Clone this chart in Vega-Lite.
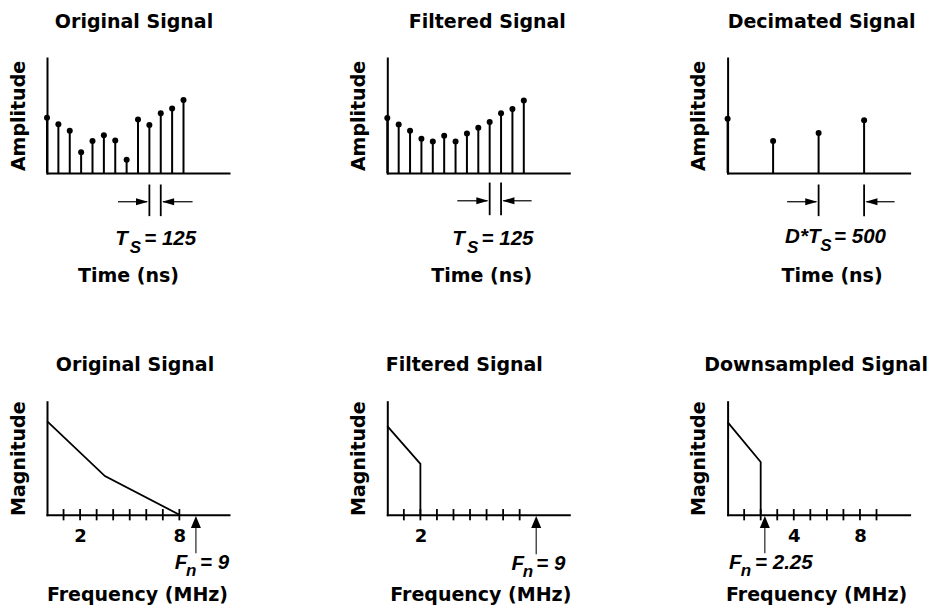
{
  "$schema": "https://vega.github.io/schema/vega-lite/v6.json",
  "background": "white",
  "padding": {"left": 8, "top": 13, "right": 0, "bottom": 0},
  "columns": 3,
  "bounds": "flush",
  "spacing": {"row": 228.7, "column": 158.3},
  "config": {
    "font": "DejaVu Sans",
    "view": {"stroke": null},
    "title": {"fontSize": 19, "fontWeight": "bold", "font": "DejaVu Sans", "color": "black", "offset": 26, "frame": "group"},
    "axis": {
      "domainColor": "black", "domainWidth": 2, "domainCap": "square",
      "ticks": false, "tickSize": 0, "labels": false, "grid": false,
      "titleFont": "DejaVu Sans", "titleFontSize": 19, "titleFontWeight": "bold", "titleColor": "black",
      "labelFont": "DejaVu Sans", "labelFontSize": 18, "labelFontWeight": "bold", "labelColor": "black"
    },
    "point": {"opacity": 1},
    "text": {"font": "Liberation Sans", "fontStyle": "italic", "fontWeight": "bold", "color": "black", "align": "left", "baseline": "alphabetic"}
  },
  "concat": [
    {
      "width": 182, "height": 115,
      "title": {"text": "Original Signal", "dx": -4},
      "layer": [
        {
          "data": {"values": [{"x":0,"y":57.7},{"x":125,"y":51.0},{"x":250,"y":44.0},{"x":375,"y":21.7},{"x":500,"y":33.3},{"x":625,"y":39.3},{"x":750,"y":34.0},{"x":875,"y":13.7},{"x":1000,"y":55.7},{"x":1125,"y":50.0},{"x":1250,"y":62.3},{"x":1375,"y":67.3},{"x":1500,"y":76.3}]},
          "mark": {"type": "rule", "color": "black", "strokeWidth": 2},
          "encoding": {
            "x": {"field": "x", "type": "quantitative", "scale": {"domain": [0, 2000]}, "axis": {"title": "Time (ns)", "titleX": 81, "titleY": 108, "titleBaseline": "alphabetic", "titleAlign": "center"}},
            "y": {"field": "y", "type": "quantitative", "scale": {"domain": [0, 115]}, "axis": {"title": "Amplitude", "titleX": -23, "titleY": 57.5, "titleBaseline": "alphabetic", "titleAngle": 270, "titleAlign": "center"}},
            "y2": {"datum": 0}
          }
        },
        {
          "data": {"values": [{"x":0,"y":57.7},{"x":125,"y":51.0},{"x":250,"y":44.0},{"x":375,"y":21.7},{"x":500,"y":33.3},{"x":625,"y":39.3},{"x":750,"y":34.0},{"x":875,"y":13.7},{"x":1000,"y":55.7},{"x":1125,"y":50.0},{"x":1250,"y":62.3},{"x":1375,"y":67.3},{"x":1500,"y":76.3}]},
          "mark": {"type": "point", "filled": true, "size": 36, "color": "black"},
          "encoding": {"x": {"field": "x", "type": "quantitative"}, "y": {"field": "y", "type": "quantitative"}}
        },
        {
          "data": {"values": [{"x":1125,"y":-12,"y2":-45},{"x":1250,"y":-12,"y2":-45}]},
          "mark": {"type": "rule", "color": "black", "strokeWidth": 1.8},
          "encoding": {"x": {"field": "x", "type": "quantitative"}, "y": {"field": "y", "type": "quantitative"}, "y2": {"field": "y2"}}
        },
        {
          "data": {"values": [{"x":780,"x2":1100,"y":-30},{"x":1275,"x2":1600,"y":-30}]},
          "mark": {"type": "rule", "color": "black", "strokeWidth": 1.2},
          "encoding": {"x": {"field": "x", "type": "quantitative"}, "x2": {"field": "x2"}, "y": {"field": "y", "type": "quantitative"}}
        },
        {
          "data": {"values": [{"x":1110,"y":-30,"dir":"right"},{"x":1265,"y":-30,"dir":"left"}]},
          "mark": {"type": "point", "filled": true, "size": 100, "color": "black"},
          "encoding": {"x": {"field": "x", "type": "quantitative"}, "y": {"field": "y", "type": "quantitative"},
            "shape": {"field": "dir", "type": "nominal", "legend": null, "scale": {"domain": ["right","left","up"], "range": ["M0,0L-2.4,-0.7L-2.4,0.7Z","M0,0L2.4,-0.7L2.4,0.7Z","M0,0L1,2.4L-1,2.4Z"]}}}
        },
        {
          "data": {"values": [{"x":750,"y":-75,"label":"T","role":"main"},{"x":910,"y":-83,"label":"S","role":"sub"},{"x":1069,"y":-75,"label":"= 125","role":"main"}]},
          "mark": {"type": "text"},
          "encoding": {"x": {"field": "x", "type": "quantitative"}, "y": {"field": "y", "type": "quantitative"}, "text": {"field": "label"},
            "size": {"field": "role", "type": "nominal", "legend": null, "scale": {"domain": ["main","sub"], "range": [20.5, 17]}}}
        }
      ]
    },
    {
      "width": 182, "height": 115,
      "title": {"text": "Filtered Signal", "dx": 9},
      "layer": [
        {
          "data": {"values": [{"x":0,"y":57.3},{"x":125,"y":50.7},{"x":250,"y":44.0},{"x":375,"y":35.7},{"x":500,"y":33.0},{"x":625,"y":39.0},{"x":750,"y":33.0},{"x":875,"y":41.3},{"x":1000,"y":47.3},{"x":1125,"y":53.3},{"x":1250,"y":62.3},{"x":1375,"y":66.7},{"x":1500,"y":75.7}]},
          "mark": {"type": "rule", "color": "black", "strokeWidth": 2},
          "encoding": {
            "x": {"field": "x", "type": "quantitative", "scale": {"domain": [0, 2000]}, "axis": {"title": "Time (ns)", "titleX": 94, "titleY": 108, "titleBaseline": "alphabetic", "titleAlign": "center"}},
            "y": {"field": "y", "type": "quantitative", "scale": {"domain": [0, 115]}, "axis": {"title": "Amplitude", "titleX": -23, "titleY": 57.5, "titleBaseline": "alphabetic", "titleAngle": 270, "titleAlign": "center"}},
            "y2": {"datum": 0}
          }
        },
        {
          "data": {"values": [{"x":0,"y":57.3},{"x":125,"y":50.7},{"x":250,"y":44.0},{"x":375,"y":35.7},{"x":500,"y":33.0},{"x":625,"y":39.0},{"x":750,"y":33.0},{"x":875,"y":41.3},{"x":1000,"y":47.3},{"x":1125,"y":53.3},{"x":1250,"y":62.3},{"x":1375,"y":66.7},{"x":1500,"y":75.7}]},
          "mark": {"type": "point", "filled": true, "size": 36, "color": "black"},
          "encoding": {"x": {"field": "x", "type": "quantitative"}, "y": {"field": "y", "type": "quantitative"}}
        },
        {
          "data": {"values": [{"x":1125,"y":-10,"y2":-44},{"x":1250,"y":-10,"y2":-44}]},
          "mark": {"type": "rule", "color": "black", "strokeWidth": 1.8},
          "encoding": {"x": {"field": "x", "type": "quantitative"}, "y": {"field": "y", "type": "quantitative"}, "y2": {"field": "y2"}}
        },
        {
          "data": {"values": [{"x":769,"x2":1100,"y":-29},{"x":1275,"x2":1586,"y":-29}]},
          "mark": {"type": "rule", "color": "black", "strokeWidth": 1.2},
          "encoding": {"x": {"field": "x", "type": "quantitative"}, "x2": {"field": "x2"}, "y": {"field": "y", "type": "quantitative"}}
        },
        {
          "data": {"values": [{"x":1110,"y":-29,"dir":"right"},{"x":1265,"y":-29,"dir":"left"}]},
          "mark": {"type": "point", "filled": true, "size": 100, "color": "black"},
          "encoding": {"x": {"field": "x", "type": "quantitative"}, "y": {"field": "y", "type": "quantitative"},
            "shape": {"field": "dir", "type": "nominal", "legend": null, "scale": {"domain": ["right","left","up"], "range": ["M0,0L-2.4,-0.7L-2.4,0.7Z","M0,0L2.4,-0.7L2.4,0.7Z","M0,0L1,2.4L-1,2.4Z"]}}}
        },
        {
          "data": {"values": [{"x":714,"y":-75,"label":"T","role":"main"},{"x":877,"y":-83,"label":"S","role":"sub"},{"x":1036,"y":-75,"label":"= 125","role":"main"}]},
          "mark": {"type": "text"},
          "encoding": {"x": {"field": "x", "type": "quantitative"}, "y": {"field": "y", "type": "quantitative"}, "text": {"field": "label"},
            "size": {"field": "role", "type": "nominal", "legend": null, "scale": {"domain": ["main","sub"], "range": [20.5, 17]}}}
        }
      ]
    },
    {
      "width": 182, "height": 115,
      "title": {"text": "Decimated Signal", "dx": 3},
      "layer": [
        {
          "data": {"values": [{"x":0,"y":56.7},{"x":500,"y":33.3},{"x":1000,"y":41.7},{"x":1500,"y":55.0}]},
          "mark": {"type": "rule", "color": "black", "strokeWidth": 2},
          "encoding": {
            "x": {"field": "x", "type": "quantitative", "scale": {"domain": [0, 2000]}, "axis": {"title": "Time (ns)", "titleX": 104, "titleY": 108, "titleBaseline": "alphabetic", "titleAlign": "center"}},
            "y": {"field": "y", "type": "quantitative", "scale": {"domain": [0, 115]}, "axis": {"title": "Amplitude", "titleX": -23, "titleY": 57.5, "titleBaseline": "alphabetic", "titleAngle": 270, "titleAlign": "center"}},
            "y2": {"datum": 0}
          }
        },
        {
          "data": {"values": [{"x":0,"y":56.7},{"x":500,"y":33.3},{"x":1000,"y":41.7},{"x":1500,"y":55.0}]},
          "mark": {"type": "point", "filled": true, "size": 36, "color": "black"},
          "encoding": {"x": {"field": "x", "type": "quantitative"}, "y": {"field": "y", "type": "quantitative"}}
        },
        {
          "data": {"values": [{"x":1000,"y":-12,"y2":-45},{"x":1500,"y":-12,"y2":-45}]},
          "mark": {"type": "rule", "color": "black", "strokeWidth": 1.8},
          "encoding": {"x": {"field": "x", "type": "quantitative"}, "y": {"field": "y", "type": "quantitative"}, "y2": {"field": "y2"}}
        },
        {
          "data": {"values": [{"x":654,"x2":975,"y":-30},{"x":1525,"x2":1835,"y":-30}]},
          "mark": {"type": "rule", "color": "black", "strokeWidth": 1.2},
          "encoding": {"x": {"field": "x", "type": "quantitative"}, "x2": {"field": "x2"}, "y": {"field": "y", "type": "quantitative"}}
        },
        {
          "data": {"values": [{"x":985,"y":-30,"dir":"right"},{"x":1515,"y":-30,"dir":"left"}]},
          "mark": {"type": "point", "filled": true, "size": 100, "color": "black"},
          "encoding": {"x": {"field": "x", "type": "quantitative"}, "y": {"field": "y", "type": "quantitative"},
            "shape": {"field": "dir", "type": "nominal", "legend": null, "scale": {"domain": ["right","left","up"], "range": ["M0,0L-2.4,-0.7L-2.4,0.7Z","M0,0L2.4,-0.7L2.4,0.7Z","M0,0L1,2.4L-1,2.4Z"]}}}
        },
        {
          "data": {"values": [{"x":632,"y":-73,"label":"D*T","role":"main"},{"x":1017,"y":-81,"label":"S","role":"sub"},{"x":1170,"y":-73,"label":"= 500","role":"main"}]},
          "mark": {"type": "text"},
          "encoding": {"x": {"field": "x", "type": "quantitative"}, "y": {"field": "y", "type": "quantitative"}, "text": {"field": "label"},
            "size": {"field": "role", "type": "nominal", "legend": null, "scale": {"domain": ["main","sub"], "range": [20.5, 17]}}}
        }
      ]
    },
    {
      "width": 182, "height": 113,
      "title": {"text": "Original Signal", "dx": -3},
      "layer": [
        {
          "data": {"values": [{"x":0,"y":99.3,"i":0},{"x":3.5,"y":41,"i":1},{"x":8,"y":0,"i":2}]},
          "mark": {"type": "line", "color": "black", "strokeWidth": 1.8},
          "encoding": {
            "x": {"field": "x", "type": "quantitative", "scale": {"domain": [0, 10.6]}, "axis": {"values": [2, 8], "labels": true, "labelPadding": 27, "labelBaseline": "alphabetic", "title": "Frequency (MHz)", "titleX": 90, "titleY": 86, "titleBaseline": "alphabetic", "titleAlign": "center"}},
            "y": {"field": "y", "type": "quantitative", "scale": {"domain": [0, 113]}, "axis": {"title": "Magnitude", "titleX": -23, "titleY": 56.5, "titleBaseline": "alphabetic", "titleAngle": 270, "titleAlign": "center"}},
            "order": {"field": "i", "type": "quantitative"}
          }
        },
        {
          "data": {"values": [{"x":1},{"x":2},{"x":3},{"x":4},{"x":5},{"x":6},{"x":7},{"x":8}]},
          "mark": {"type": "rule", "color": "black", "strokeWidth": 1.8},
          "encoding": {"x": {"field": "x", "type": "quantitative"}, "y": {"datum": -6}, "y2": {"datum": 6}}
        },
        {
          "data": {"values": [{"x":9,"y":-10,"y2":-41}]},
          "mark": {"type": "rule", "color": "#222", "strokeWidth": 1.2},
          "encoding": {"x": {"field": "x", "type": "quantitative"}, "y": {"field": "y", "type": "quantitative"}, "y2": {"field": "y2"}}
        },
        {
          "data": {"values": [{"x":9,"y":-1.5,"dir":"up"}]},
          "mark": {"type": "point", "filled": true, "size": 100, "color": "black"},
          "encoding": {"x": {"field": "x", "type": "quantitative"}, "y": {"field": "y", "type": "quantitative"},
            "shape": {"field": "dir", "type": "nominal", "legend": null, "scale": {"domain": ["right","left","up"], "range": ["M0,0L-2.4,-0.7L-2.4,0.7Z","M0,0L2.4,-0.7L2.4,0.7Z","M0,0L1,2.4L-1,2.4Z"]}}}
        },
        {
          "data": {"values": [{"x":7.72,"y":-58,"label":"F","role":"main"},{"x":8.4,"y":-65,"label":"n","role":"sub"},{"x":9.25,"y":-58,"label":"= 9","role":"main"}]},
          "mark": {"type": "text"},
          "encoding": {"x": {"field": "x", "type": "quantitative"}, "y": {"field": "y", "type": "quantitative"}, "text": {"field": "label"},
            "size": {"field": "role", "type": "nominal", "legend": null, "scale": {"domain": ["main","sub"], "range": [20.5, 19]}}}
        }
      ]
    },
    {
      "width": 182, "height": 113,
      "title": {"text": "Filtered Signal", "dx": -14},
      "layer": [
        {
          "data": {"values": [{"x":0,"y":94,"i":0},{"x":2,"y":54,"i":1},{"x":2,"y":0,"i":2}]},
          "mark": {"type": "line", "color": "black", "strokeWidth": 1.8},
          "encoding": {
            "x": {"field": "x", "type": "quantitative", "scale": {"domain": [0, 10.6]}, "axis": {"values": [2], "labels": true, "labelPadding": 27, "labelBaseline": "alphabetic", "title": "Frequency (MHz)", "titleX": 93, "titleY": 86, "titleBaseline": "alphabetic", "titleAlign": "center"}},
            "y": {"field": "y", "type": "quantitative", "scale": {"domain": [0, 113]}, "axis": {"title": "Magnitude", "titleX": -23, "titleY": 56.5, "titleBaseline": "alphabetic", "titleAngle": 270, "titleAlign": "center"}},
            "order": {"field": "i", "type": "quantitative"}
          }
        },
        {
          "data": {"values": [{"x":1},{"x":2},{"x":3},{"x":4},{"x":5},{"x":6},{"x":7},{"x":8}]},
          "mark": {"type": "rule", "color": "black", "strokeWidth": 1.8},
          "encoding": {"x": {"field": "x", "type": "quantitative"}, "y": {"datum": -6}, "y2": {"datum": 6}}
        },
        {
          "data": {"values": [{"x":9,"y":-10,"y2":-42}]},
          "mark": {"type": "rule", "color": "#222", "strokeWidth": 1.2},
          "encoding": {"x": {"field": "x", "type": "quantitative"}, "y": {"field": "y", "type": "quantitative"}, "y2": {"field": "y2"}}
        },
        {
          "data": {"values": [{"x":9,"y":-1.5,"dir":"up"}]},
          "mark": {"type": "point", "filled": true, "size": 100, "color": "black"},
          "encoding": {"x": {"field": "x", "type": "quantitative"}, "y": {"field": "y", "type": "quantitative"},
            "shape": {"field": "dir", "type": "nominal", "legend": null, "scale": {"domain": ["right","left","up"], "range": ["M0,0L-2.4,-0.7L-2.4,0.7Z","M0,0L2.4,-0.7L2.4,0.7Z","M0,0L1,2.4L-1,2.4Z"]}}}
        },
        {
          "data": {"values": [{"x":7.5,"y":-59,"label":"F","role":"main"},{"x":8.19,"y":-66,"label":"n","role":"sub"},{"x":9.0,"y":-59,"label":"= 9","role":"main"}]},
          "mark": {"type": "text"},
          "encoding": {"x": {"field": "x", "type": "quantitative"}, "y": {"field": "y", "type": "quantitative"}, "text": {"field": "label"},
            "size": {"field": "role", "type": "nominal", "legend": null, "scale": {"domain": ["main","sub"], "range": [20.5, 19]}}}
        }
      ]
    },
    {
      "width": 182, "height": 113,
      "title": {"text": "Downsampled Signal", "dx": -2.5},
      "layer": [
        {
          "data": {"values": [{"x":0,"y":98.3,"i":0},{"x":2,"y":56,"i":1},{"x":2,"y":0,"i":2}]},
          "mark": {"type": "line", "color": "black", "strokeWidth": 1.8},
          "encoding": {
            "x": {"field": "x", "type": "quantitative", "scale": {"domain": [0, 10.6]}, "axis": {"values": [4, 8], "labels": true, "labelPadding": 27, "labelBaseline": "alphabetic", "title": "Frequency (MHz)", "titleX": 88.5, "titleY": 86, "titleBaseline": "alphabetic", "titleAlign": "center"}},
            "y": {"field": "y", "type": "quantitative", "scale": {"domain": [0, 113]}, "axis": {"title": "Magnitude", "titleX": -23, "titleY": 56.5, "titleBaseline": "alphabetic", "titleAngle": 270, "titleAlign": "center"}},
            "order": {"field": "i", "type": "quantitative"}
          }
        },
        {
          "data": {"values": [{"x":1},{"x":2},{"x":3},{"x":4},{"x":5},{"x":6},{"x":7},{"x":8},{"x":9}]},
          "mark": {"type": "rule", "color": "black", "strokeWidth": 1.8},
          "encoding": {"x": {"field": "x", "type": "quantitative"}, "y": {"datum": -6}, "y2": {"datum": 6}}
        },
        {
          "data": {"values": [{"x":2.25,"y":-10,"y2":-41}]},
          "mark": {"type": "rule", "color": "#222", "strokeWidth": 1.2},
          "encoding": {"x": {"field": "x", "type": "quantitative"}, "y": {"field": "y", "type": "quantitative"}, "y2": {"field": "y2"}}
        },
        {
          "data": {"values": [{"x":2.25,"y":-1.5,"dir":"up"}]},
          "mark": {"type": "point", "filled": true, "size": 100, "color": "black"},
          "encoding": {"x": {"field": "x", "type": "quantitative"}, "y": {"field": "y", "type": "quantitative"},
            "shape": {"field": "dir", "type": "nominal", "legend": null, "scale": {"domain": ["right","left","up"], "range": ["M0,0L-2.4,-0.7L-2.4,0.7Z","M0,0L2.4,-0.7L2.4,0.7Z","M0,0L1,2.4L-1,2.4Z"]}}}
        },
        {
          "data": {"values": [{"x":0.09,"y":-58,"label":"F","role":"main"},{"x":0.79,"y":-65,"label":"n","role":"sub"},{"x":1.66,"y":-58,"label":"= 2.25","role":"main"}]},
          "mark": {"type": "text"},
          "encoding": {"x": {"field": "x", "type": "quantitative"}, "y": {"field": "y", "type": "quantitative"}, "text": {"field": "label"},
            "size": {"field": "role", "type": "nominal", "legend": null, "scale": {"domain": ["main","sub"], "range": [20.5, 19]}}}
        }
      ]
    }
  ]
}
